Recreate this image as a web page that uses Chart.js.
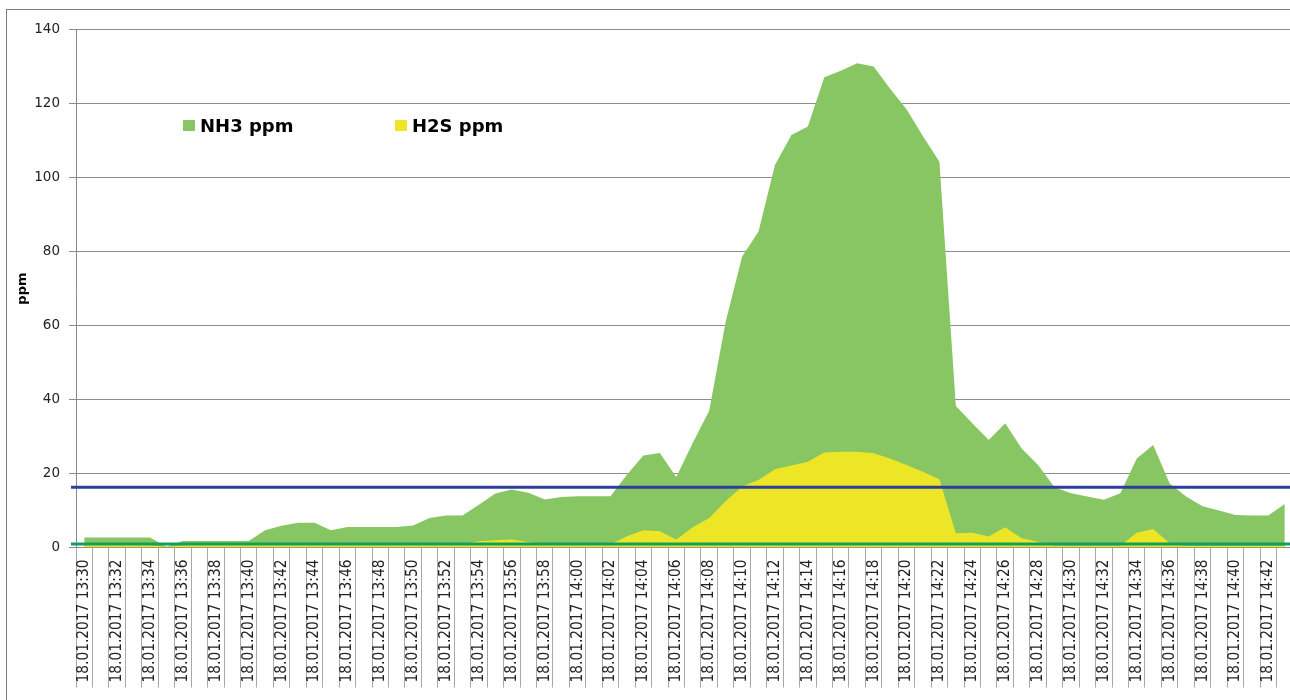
<!DOCTYPE html>
<html>
<head>
<meta charset="utf-8">
<script src="https://cdn.jsdelivr.net/npm/chart.js@4.4.1/dist/chart.umd.min.js"></script>
<style>
  html, body { margin: 0; padding: 0; background: #fff; overflow: hidden; }
  #wrap { position: relative; width: 1300px; height: 700px; }
  #frame { position: absolute; left: 6px; top: 9px; width: 1400px; height: 800px;
           border: 1.5px solid #7a7a7a; box-sizing: border-box; }
  #grafico { position: absolute; left: 0; top: 0; }
  .leyenda { position: absolute; top: 116px; font: bold 18px "DejaVu Sans", sans-serif;
             color: #000; white-space: nowrap; line-height: 20px; }
  .leyenda span { display: inline-block; width: 12px; height: 11px; margin-right: 5px;
                  vertical-align: 1px; }
</style>
</head>
<body>
<div id="wrap">
  <div id="frame"></div>
  <canvas id="grafico" width="1300" height="700"></canvas>
  <div class="leyenda" style="left:183px"><span style="background:#88c563"></span>NH3 ppm</div>
  <div class="leyenda" style="left:395px"><span style="background:#ece626"></span>H2S ppm</div>
</div>
<script>
// Mediciones del 18.01.2017, una por minuto desde 13:30
const minutos = [];
for (let m = 30; m <= 103; m++) {
    const h = 13 + Math.floor(m / 60);
    const mm = String(m % 60).padStart(2, '0');
    minutos.push(`18.01.2017 ${h}:${mm}`);
}

const nh3 = [
    2.7, 2.7, 2.7, 2.7, 2.7, 0.2, 1.8, 1.8, 1.8, 1.8,
    1.8, 4.7, 5.9, 6.7, 6.7, 4.7, 5.6, 5.6, 5.6, 5.6,
    6.0, 8.0, 8.7, 8.7, 11.6, 14.6, 15.7, 14.8, 13.0, 13.7,
    13.9, 13.9, 13.9, 19.7, 24.9, 25.6, 19.1, 28.3, 37.0, 61.0,
    78.6, 85.4, 103.4, 111.5, 113.8, 127.1, 128.9, 130.9, 130.0, 124.0,
    118.5, 111.2, 104.3, 38.3, 33.6, 29.1, 33.6, 26.8, 22.3, 16.3,
    14.7, 13.8, 12.9, 14.7, 24.1, 27.7, 17.3, 13.8, 11.2, 10.0,
    8.8, 8.7, 8.7, 11.8
];

const h2s = [
    0.7, 0.7, 0.7, 0.7, 0.7, 0.2, 0.7, 0.7, 0.7, 0.7,
    0.7, 0.7, 0.7, 0.7, 0.7, 0.7, 0.7, 0.7, 0.7, 0.7,
    0.7, 0.7, 0.8, 0.9, 1.7, 2.0, 2.2, 1.5, 0.8, 0.8,
    0.8, 0.8, 0.9, 3.1, 4.7, 4.4, 2.2, 5.5, 8.0, 12.5,
    16.5, 18.3, 21.2, 22.2, 23.2, 25.7, 25.9, 25.9, 25.5, 24.1,
    22.3, 20.5, 18.5, 3.9, 4.0, 3.0, 5.5, 2.5, 1.6, 0.5,
    0.5, 0.5, 0.5, 0.5, 4.0, 5.0, 1.2, 0.4, 0.4, 0.4,
    0.4, 0.4, 0.4, 0.4
];

const ticksY = [0, 20, 40, 60, 80, 100, 120, 140];

// Líneas de límite horizontales
const limites = [
    { valor: 16.3, color: '#2d3f9b' },
    { valor: 1.0, color: '#149e5c' }
];

const lineasLimite = {
    id: 'lineasLimite',
    afterDatasetsDraw(chart) {
        const { ctx, chartArea, scales } = chart;
        ctx.save();
        limites.forEach(l => {
            const y = scales.y.getPixelForValue(l.valor);
            ctx.strokeStyle = l.color;
            ctx.lineWidth = 3;
            ctx.beginPath();
            ctx.moveTo(chartArea.left - 5, y);
            ctx.lineTo(chartArea.right, y);
            ctx.stroke();
        });
        ctx.restore();
    }
};

const ctx = document.getElementById('grafico').getContext('2d');

new Chart(ctx, {
    type: 'line',
    data: {
        labels: minutos,
        datasets: [
            {
                label: 'H2S ppm',
                data: h2s,
                backgroundColor: '#ece626',
                borderWidth: 0,
                pointRadius: 0,
                fill: 'origin',
                order: 1
            },
            {
                label: 'NH3 ppm',
                data: nh3,
                backgroundColor: '#88c563',
                borderWidth: 0,
                pointRadius: 0,
                fill: 'origin',
                order: 2
            }
        ]
    },
    options: {
        responsive: false,
        animation: false,
        devicePixelRatio: 1,
        layout: {
            padding: { top: 29.6, right: 7, bottom: 0, left: 0 }
        },
        plugins: {
            legend: { display: false },
            tooltip: { enabled: false }
        },
        scales: {
            x: {
                offset: true,
                afterFit(scale) { scale.height = 152.4; },
                grid: {
                    display: true,
                    offset: true,
                    drawOnChartArea: false,
                    tickLength: 140,
                    color: '#a8a8a8'
                },
                border: { color: '#8a8a8a' },
                ticks: {
                    autoSkip: false,
                    minRotation: 90,
                    maxRotation: 90,
                    padding: -128,
                    color: '#222',
                    font: { family: '"DejaVu Sans Condensed", "DejaVu Sans", sans-serif', size: 15.3 },
                    callback(value, index) {
                        return index % 2 === 0 ? this.getLabelForValue(value) : '';
                    }
                }
            },
            y: {
                min: 0,
                max: 140,
                afterFit(scale) { scale.width = 76; },
                afterBuildTicks(scale) {
                    scale.ticks = ticksY.map(v => ({ value: v }));
                },
                grid: {
                    color: '#8c8c8c',
                    tickLength: 7
                },
                border: { color: '#8a8a8a' },
                ticks: {
                    padding: 9,
                    color: '#222',
                    font: { family: '"DejaVu Sans", sans-serif', size: 13.5 }
                },
                title: {
                    display: true,
                    text: 'ppm',
                    color: '#000',
                    padding: { top: 15, bottom: 0 },
                    font: { family: '"DejaVu Sans", sans-serif', size: 13, weight: 'bold' }
                }
            }
        }
    },
    plugins: [lineasLimite]
});
</script>
</body>
</html>
